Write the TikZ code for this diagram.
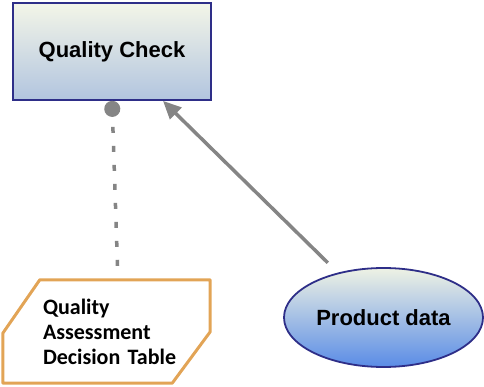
\documentclass[tikz,border=0pt]{standalone}
\usepackage{fontspec}
\setmainfont{Liberation Sans}
\newfontfamily\tablefont{Carlito}
\usetikzlibrary{arrows.meta}
\usetikzlibrary{shapes.geometric}

\definecolor{boxborder}{HTML}{2E2E88}
\definecolor{boxtop}{HTML}{F3F5E8}
\definecolor{boxbottom}{HTML}{B2C5DF}
\definecolor{datatop}{HTML}{EEF2E4}
\definecolor{databottom}{HTML}{5A8CE6}
\definecolor{tableborder}{HTML}{E2A456}
\definecolor{linkgray}{HTML}{858585}

\tikzstyle{process} = [rectangle, minimum width=198pt, minimum height=97pt, text centered, draw=boxborder, line width=1.8pt, top color=boxtop, bottom color=boxbottom, font=\bfseries\fontsize{22}{25}\selectfont]
\tikzstyle{datanode} = [ellipse, minimum width=199pt, minimum height=99pt, inner sep=0pt, draw=boxborder, line width=1.8pt, top color=datatop, bottom color=databottom, font=\bfseries\fontsize{22}{25}\selectfont]
\tikzstyle{decision} = [rectangle, minimum width=207pt, minimum height=103pt, text width=127pt, align=left, font=\tablefont\bfseries\fontsize{22}{25}\selectfont]
\tikzstyle{outline} = [draw=tableborder, line width=3pt, line join=round]
\tikzstyle{arrow} = [line width=3.5pt, draw=linkgray, shorten <=14pt, -{Triangle[length=18pt,width=16pt]}]
\tikzstyle{link} = [line width=3.5pt, draw=linkgray, dash pattern=on 6pt off 13pt, -{Circle[length=16pt,width=16pt,fill=linkgray]}]

\begin{document}
\begin{tikzpicture}[x=1pt, y=-1pt]
	\useasboundingbox (0,0) rectangle (484,387);
	% Place nodes
	\node [process] (QualityCheck) at (112,51.5) {Quality Check};
	\node [datanode] (ProductData) at (383.5,317.5) {Product data};
	\node [decision] (DecisionTable) at (106.5,331.5) {Quality\\Assessment\\\mbox{Decision Table}};
	\draw [outline] ([xshift=37pt]DecisionTable.north west) -- (DecisionTable.north east) -- ++(0,52) -- ([xshift=-38pt]DecisionTable.south east) -- (DecisionTable.south west) -- ++(0,-50) -- cycle;
	% Draw edges
	\draw [arrow] (ProductData) -- ([xshift=51pt]QualityCheck.south);
	\draw [link] ([xshift=11pt,yshift=14pt]DecisionTable.north) -- (QualityCheck.south);
\end{tikzpicture}
\end{document}
